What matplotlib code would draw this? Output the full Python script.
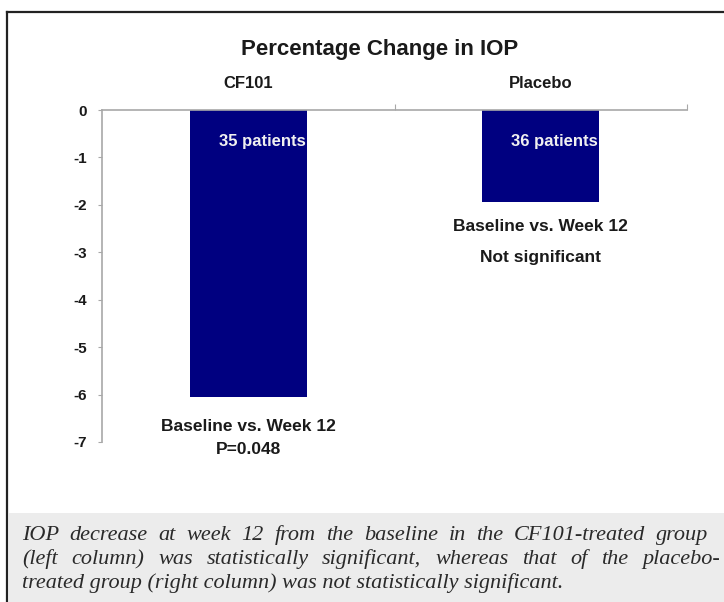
import matplotlib
matplotlib.use("Agg")
import matplotlib.pyplot as plt
from matplotlib.font_manager import FontProperties
from matplotlib.patches import Rectangle
from matplotlib.lines import Line2D

# ---- data ----
categories = ["CF101", "Placebo"]
values = [-6.05, -1.95]
patients = ["35 patients", "36 patients"]
notes = [["Baseline vs. Week 12", "P=0.048"], ["Baseline vs. Week 12", "Not significant"]]
yticks = [0, -1, -2, -3, -4, -5, -6, -7]
title = "Percentage Change in IOP"
caption_lines = [
    "IOP decrease at week 12 from the baseline in the CF101-treated group",
    "(left column) was statistically significant, whereas that of the placebo-",
    "treated group (right column) was not statistically significant.",
]

W, H = 724, 602
fig = plt.figure(figsize=(W / 100, H / 100), dpi=100)
fig.patch.set_facecolor("white")

def fx(px):
    return px / W

def fy(py):
    return 1 - py / H

# caption background and frame
fig.add_artist(Rectangle((fx(9), 0), 1 - fx(9), fy(513), transform=fig.transFigure,
                         facecolor="#ececec", edgecolor="none", zorder=0))
fig.add_artist(Line2D([fx(7), 1], [fy(12), fy(12)], transform=fig.transFigure,
                      color="#222222", lw=1.6))
fig.add_artist(Line2D([fx(7), fx(7)], [fy(12), 0], transform=fig.transFigure,
                      color="#222222", lw=1.6))

sans = "Liberation Sans"
ax = fig.add_axes([fx(102), fy(442), fx(687) - fx(102), fy(110) - fy(442)])
ax.set_facecolor("none")
x = list(range(len(categories)))
ax.bar(x, values, width=0.4, color="#000080", zorder=2)
ax.set_xlim(-0.5, 1.5)
ax.set_ylim(-7, 0)

for s in ["bottom", "right"]:
    ax.spines[s].set_visible(False)
for s in ["left", "top"]:
    ax.spines[s].set_color("#a8a8a8")
    ax.spines[s].set_linewidth(1.2)

ax.set_yticks(yticks)
ax.set_yticklabels([str(t) for t in yticks], fontfamily=sans, fontweight="bold",
                   fontsize=11, color="#1a1a1a")
ax.tick_params(axis="y", direction="out", length=3, color="#a8a8a8", pad=8)
ax.xaxis.tick_top()
ax.set_xticks([0.5, 1.5])
ax.set_xticklabels([])
ax.tick_params(axis="x", direction="out", length=4, color="#a8a8a8")

for i, c in enumerate(categories):
    ax.text(i, 0.55, c, ha="center", va="center", fontfamily=sans, fontweight="bold",
            fontsize=12, color="#1a1a1a", clip_on=False)
    ax.text(i + 0.195, -0.67, patients[i], ha="right", va="center", fontfamily=sans,
            fontweight="bold", fontsize=12, color="#f0f0f0", zorder=3)

ax.text(0, -6.67, notes[0][0], ha="center", va="center", fontfamily=sans, fontweight="bold",
        fontsize=12.5, color="#1a1a1a", clip_on=False)
ax.text(0, -7.15, notes[0][1], ha="center", va="center", fontfamily=sans, fontweight="bold",
        fontsize=12.5, color="#1a1a1a", clip_on=False)
ax.text(1, -2.46, notes[1][0], ha="center", va="center", fontfamily=sans, fontweight="bold",
        fontsize=12.5, color="#1a1a1a", clip_on=False)
ax.text(1, -3.12, notes[1][1], ha="center", va="center", fontfamily=sans, fontweight="bold",
        fontsize=12.5, color="#1a1a1a", clip_on=False)

fig.text(fx(380), fy(50), title, ha="center", va="center", fontfamily=sans,
         fontweight="bold", fontsize=16, color="#1a1a1a")

# justified caption
renderer = fig.canvas.get_renderer()
prop = FontProperties(family="Liberation Serif", style="italic", size=16)
baselines = [540, 564, 588]
right_edges = [708, 720, None]
left = 22
for line, yb, xr in zip(caption_lines, baselines, right_edges):
    words = line.split(" ")
    if xr is None:
        fig.text(fx(left), fy(yb), line, ha="left", va="baseline", fontproperties=prop,
                 color="#2a2a2a")
        continue
    widths = [renderer.get_text_width_height_descent(w, prop, ismath=False)[0] for w in words]
    gap = (xr - left - sum(widths)) / (len(words) - 1)
    xp = left
    for w, wd in zip(words, widths):
        fig.text(fx(xp), fy(yb), w, ha="left", va="baseline", fontproperties=prop,
                 color="#2a2a2a")
        xp += wd + gap

fig.savefig("out.png", dpi=100)
